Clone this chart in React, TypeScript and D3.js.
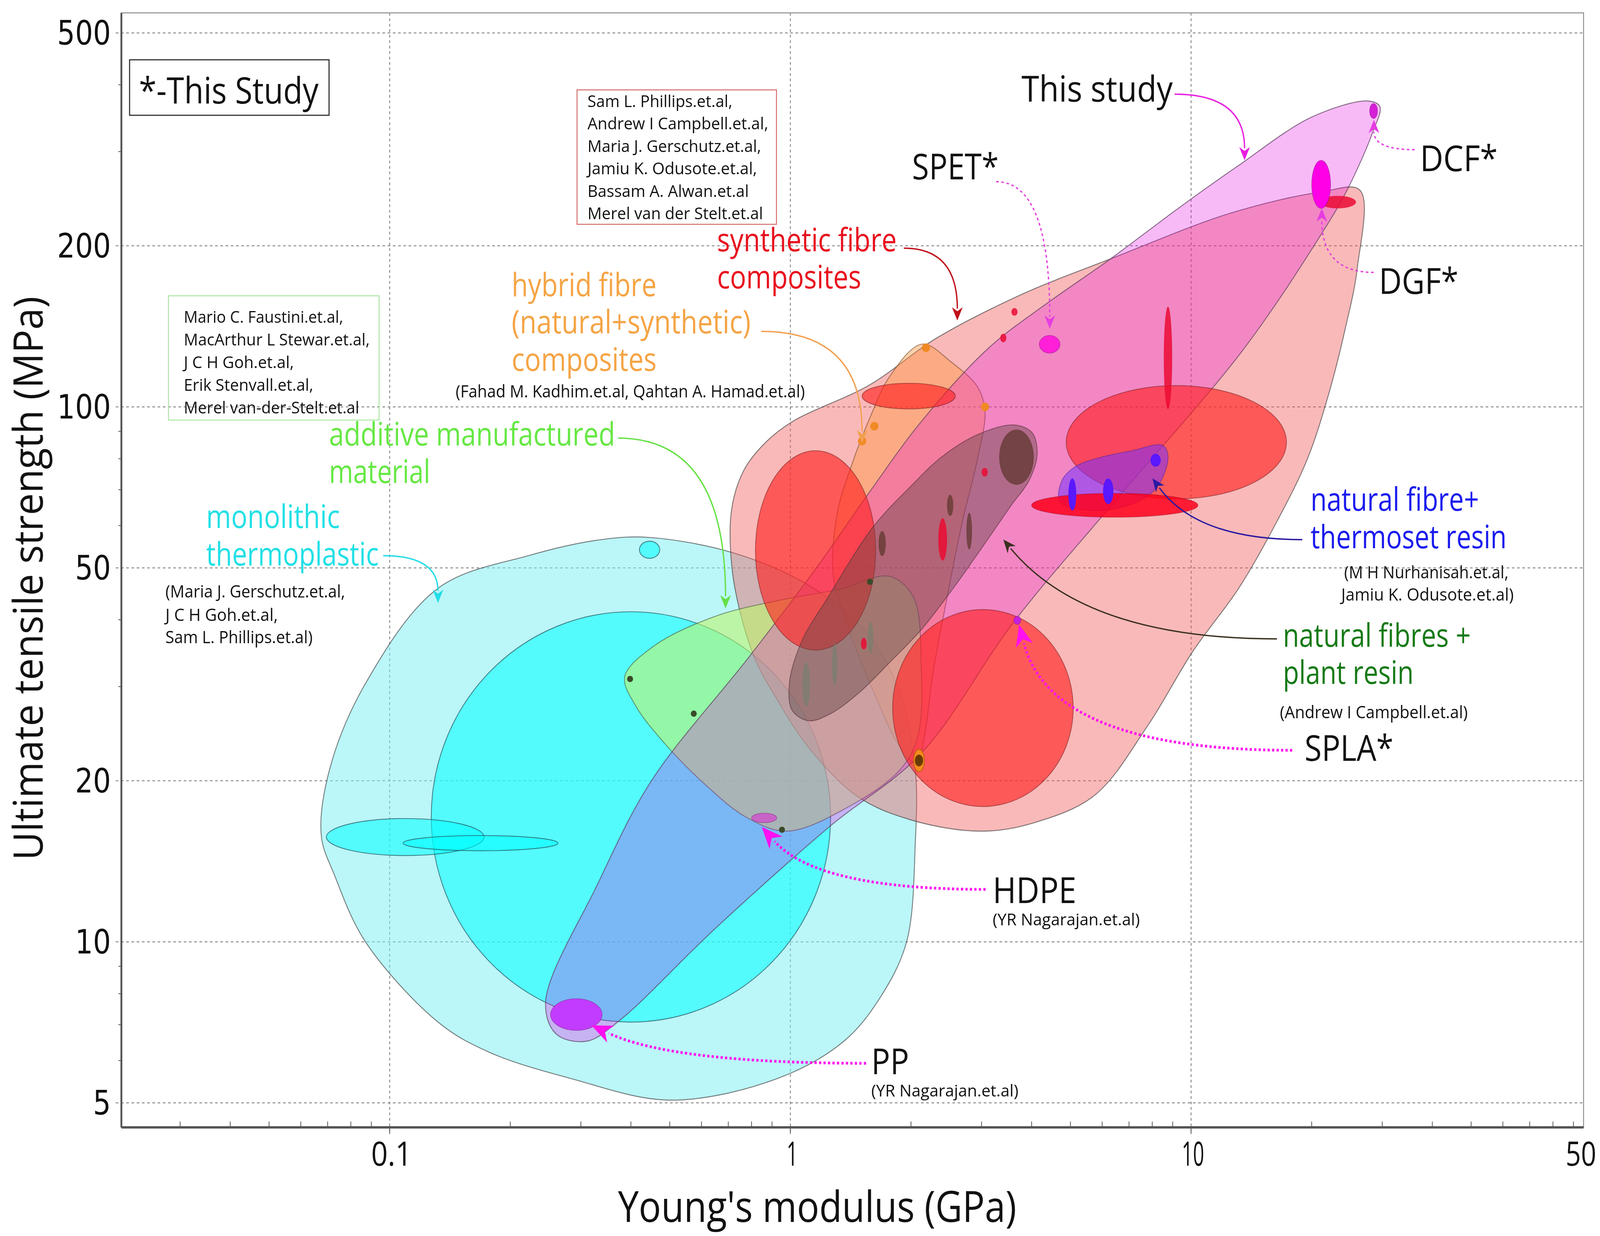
import { useEffect, useRef } from "react";
import * as d3 from "d3";

type Pt = [number, number];
type Bubble = { e: Pt; s: Pt };

// ---- axes ----
const X_DOMAIN: Pt = [0.0214, 95.4];
const Y_DOMAIN: Pt = [4.5, 545];
const X_GRID = [0.1, 1, 10];
const X_TICK_LABELS = ["0.1", "1", "10"];
const X_END_LABEL = "50";
const Y_GRID = [5, 10, 20, 50, 100, 200, 500];
const Y_TICK_LABELS = ["5", "10", "20", "50", "100", "200", "500"];

// ---- envelopes (E in GPa, strength in MPa) ----
const THERMOPLASTIC_ENVELOPE: Pt[] = [
  [0.445, 57.0], [0.723, 53.3], [1.106, 46.5], [1.53, 38.3], [1.88, 29.1], [2.05, 21.0],
  [2.05, 15.3], [1.95, 10.0], [1.67, 7.84], [1.36, 6.52], [0.926, 5.55], [0.501, 5.06],
  [0.284, 5.55], [0.177, 6.22], [0.132, 7.08], [0.087, 10.0], [0.0729, 13.3], [0.0675, 15.8],
  [0.0708, 21.0], [0.087, 30.4], [0.132, 45.8], [0.224, 52.8], [0.339, 56.5],
];

const SYNTHETIC_ENVELOPE: Pt[] = [
  [26.4, 254], [26.0, 182], [24.2, 139], [22.0, 105], [19.5, 79.8], [16.5, 61.7],
  [13.2, 46.0], [10.1, 34.9], [7.78, 25.3], [5.75, 18.8], [4.06, 16.7], [2.99, 16.1],
  [2.0, 16.9], [1.47, 18.7], [1.11, 23.1], [0.926, 28.4], [0.823, 33.3], [0.757, 40.1],
  [0.714, 50.4], [0.714, 64.6], [0.766, 76.2], [0.863, 85.5], [1.01, 93.8], [1.58, 110],
  [2.3, 134], [3.83, 163], [6.29, 189], [12.5, 230], [21.0, 252],
];

const HYBRID_ENVELOPE: Pt[] = [
  [2.13, 131], [2.53, 121], [2.93, 109], [3.06, 98.2], [2.93, 79.8], [2.68, 60.5],
  [2.46, 44.0], [2.27, 31.8], [2.16, 24.2], [2.07, 21.5], [1.88, 23.1], [1.62, 29.1],
  [1.4, 38.3], [1.28, 48.2], [1.31, 63.4], [1.42, 77.6], [1.58, 95.5], [1.77, 114],
];

const ADDITIVE_ENVELOPE: Pt[] = [
  [0.386, 31.3], [0.456, 35.7], [0.65, 40.6], [0.926, 43.4], [1.32, 45.6], [1.77, 48.2],
  [2.03, 44.0], [2.12, 33.3], [2.08, 24.2], [1.88, 21.0], [1.4, 17.9], [0.982, 16.1],
  [0.776, 17.1], [0.612, 19.7], [0.483, 23.6], [0.41, 27.7],
];

const STUDY_ENVELOPE: Pt[] = [
  [27.7, 373], [20.0, 348], [13.0, 281], [9.29, 235], [6.29, 189], [4.31, 155], [3.13, 129],
  [2.12, 93.8], [1.58, 69.5], [1.17, 50.4], [0.789, 34.1], [0.45, 20.0], [0.33, 12.8],
  [0.245, 7.73], [0.26, 6.73], [0.31, 6.52], [0.373, 7.11], [0.65, 10.6], [1.25, 16.4],
  [2.12, 22.5], [3.61, 39.6], [6.4, 66.1], [13.5, 128], [21.2, 211], [24.5, 254],
  [28.4, 326], [29.6, 364],
];

const NATURAL_ENVELOPE: Pt[] = [
  [3.61, 92.5], [4.01, 89.5], [4.13, 81.7], [3.94, 72.8], [3.56, 65.5], [3.02, 54.8],
  [2.56, 46.0], [2.12, 38.3], [1.77, 33.3], [1.49, 29.3], [1.26, 26.7], [1.11, 25.9],
  [1.01, 27.1], [0.994, 30.4], [1.07, 36.6], [1.24, 44.0], [1.61, 59.7], [2.0, 71.1],
  [2.38, 80.5], [2.93, 88.7],
];

const THERMOSET_ENVELOPE: Pt[] = [
  [4.71, 66.4], [4.76, 72.8], [5.14, 77.3], [5.96, 80.5], [7.12, 82.8], [8.5, 84.7],
  [8.76, 80.5], [8.26, 71.1], [7.33, 66.4], [5.79, 64.0],
];

// ---- property bubbles ----
const THERMOPLASTIC_BUBBLES: Bubble[] = [
  { e: [0.127, 1.26], s: [7.08, 41.4] },
  { e: [0.0695, 0.172], s: [14.5, 17.0] },
  { e: [0.108, 0.263], s: [14.8, 15.8] },
  { e: [0.42, 0.472], s: [52.1, 56.1] },
];
const SYNTHETIC_BUBBLES: Bubble[] = [
  { e: [0.818, 1.633], s: [35.1, 82.8] },
  { e: [1.8, 5.08], s: [17.9, 41.8] },
  { e: [4.88, 17.3], s: [67.3, 109.6] },
  { e: [1.51, 2.58], s: [99.1, 110.7] },
];
const SYNTHETIC_STRONG: Bubble[] = [
  { e: [8.55, 8.97], s: [99, 154] },
  { e: [20.9, 25.8], s: [235, 248] },
  { e: [2.34, 2.46], s: [51.6, 61.9] },
  { e: [3.0, 3.11], s: [74.1, 76.9] },
  { e: [3.56, 3.69], s: [148, 153] },
  { e: [3.34, 3.46], s: [132, 137] },
  { e: [1.5, 1.55], s: [35.2, 37.0] },
];
const SYNTHETIC_FLAT: Bubble[] = [{ e: [4.0, 10.4], s: [62.2, 68.9] }];
const NATURAL_BUBBLES: Bubble[] = [
  { e: [3.32, 4.05], s: [71.5, 90.7] },
  { e: [2.75, 2.84], s: [54.1, 63.4] },
  { e: [2.46, 2.55], s: [62.5, 68.5] },
  { e: [1.66, 1.73], s: [52.6, 58.6] },
];
const NATURAL_GREY: Bubble[] = [
  { e: [1.07, 1.12], s: [27.5, 33.3] },
  { e: [1.27, 1.31], s: [30.1, 36.2] },
  { e: [1.56, 1.61], s: [34.6, 39.7] },
];
const THERMOSET_BUBBLES: Bubble[] = [
  { e: [4.94, 5.17], s: [64.0, 73.5] },
  { e: [6.03, 6.4], s: [65.8, 73.5] },
  { e: [7.92, 8.4], s: [77.3, 81.7] },
];
const HYBRID_BIG: Bubble[] = [{ e: [2.03, 2.16], s: [20.8, 22.9] }];
const HYBRID_POINTS: Pt[] = [[2.18, 129], [3.06, 100], [1.62, 92], [1.51, 86.3]];
const ADDITIVE_POINTS: Pt[] = [[0.398, 31.0], [0.574, 26.7], [0.953, 16.2], [1.58, 47.1]];

const STUDY_NAMES = ["SPET", "DGF", "DCF", "SPLA", "HDPE", "PP"];
const STUDY_SAMPLES: Bubble[] = [
  { e: [4.18, 4.71], s: [126, 136] },
  { e: [20.0, 22.3], s: [235, 289] },
  { e: [27.9, 29.2], s: [346, 369] },
  { e: [3.61, 3.76], s: [39.2, 40.6] },
  { e: [0.8, 0.925], s: [16.7, 17.4] },
  { e: [0.252, 0.339], s: [6.83, 7.83] },
];
const STUDY_COLORS: Record<string, string> = {
  SPET: "#ff20d8", DGF: "#ff00e6", DCF: "#d81ed8", SPLA: "#c81ee0", HDPE: "#c864c8", PP: "#c23cff",
};

// ---- annotations ----
const REF_RED = [
  "Sam L. Phillips.et.al,", "Andrew I Campbell.et.al,", "Maria J. Gerschutz.et.al,",
  "Jamiu K. Odusote.et.al,", "Bassam A. Alwan.et.al", "Merel van der Stelt.et.al",
];
const REF_RED_LEN = [388, 484, 465, 454, 432, 470];
const REF_GREEN = [
  "Mario C. Faustini.et.al,", "MacArthur L Stewar.et.al,", "J C H Goh.et.al,",
  "Erik Stenvall.et.al,", "Merel van-der-Stelt.et.al",
];
const REF_GREEN_LEN = [427, 498, 295, 347, 470];

type Label = { t: string; x: number; y: number; size: number; color: string; len: number };
const LABELS: Label[] = [
  { t: "This study", x: 2735, y: 260, size: 92, color: "#111", len: 405 },
  { t: "SPET*", x: 2442, y: 459, size: 92, color: "#111", len: 232 },
  { t: "DCF*", x: 3802, y: 438, size: 92, color: "#111", len: 208 },
  { t: "DGF*", x: 3692, y: 752, size: 92, color: "#111", len: 213 },
  { t: "synthetic fibre", x: 1920, y: 643, size: 82, color: "#e8101e", len: 481 },
  { t: "composites", x: 1920, y: 738, size: 82, color: "#e8101e", len: 386 },
  { t: "hybrid fibre", x: 1370, y: 758, size: 82, color: "#f5a445", len: 388 },
  { t: "(natural+synthetic)", x: 1370, y: 853, size: 82, color: "#f5a445", len: 640 },
  { t: "composites", x: 1370, y: 949, size: 82, color: "#f5a445", len: 388 },
  { t: "(Fahad M. Kadhim.et.al, Qahtan A. Hamad.et.al)", x: 1220, y: 1017, size: 44, color: "#111", len: 935 },
  { t: "additive manufactured", x: 881, y: 1140, size: 82, color: "#66e844", len: 766 },
  { t: "material", x: 881, y: 1236, size: 82, color: "#66e844", len: 271 },
  { t: "monolithic", x: 552, y: 1351, size: 82, color: "#22e0e6", len: 358 },
  { t: "thermoplastic", x: 552, y: 1447, size: 82, color: "#22e0e6", len: 462 },
  { t: "(Maria J. Gerschutz.et.al,", x: 443, y: 1529, size: 44, color: "#111", len: 481 },
  { t: "J C H Goh.et.al,", x: 443, y: 1589, size: 44, color: "#111", len: 301 },
  { t: "Sam L. Phillips.et.al)", x: 443, y: 1646, size: 44, color: "#111", len: 394 },
  { t: "natural fibre+", x: 3509, y: 1307, size: 82, color: "#1a1aee", len: 451 },
  { t: "thermoset resin", x: 3509, y: 1403, size: 82, color: "#1a1aee", len: 525 },
  { t: "(M H Nurhanisah.et.al,", x: 3599, y: 1480, size: 44, color: "#111", len: 440 },
  { t: "Jamiu K. Odusote.et.al)", x: 3591, y: 1537, size: 44, color: "#111", len: 462 },
  { t: "natural fibres +", x: 3435, y: 1655, size: 82, color: "#167a16", len: 503 },
  { t: "plant resin", x: 3435, y: 1750, size: 82, color: "#167a16", len: 350 },
  { t: "(Andrew I Campbell.et.al)", x: 3427, y: 1838, size: 44, color: "#111", len: 503 },
  { t: "SPLA*", x: 3493, y: 1947, size: 92, color: "#111", len: 238 },
  { t: "HDPE", x: 2658, y: 2311, size: 92, color: "#111", len: 224 },
  { t: "(YR Nagarajan.et.al)", x: 2658, y: 2368, size: 42, color: "#111", len: 394 },
  { t: "PP", x: 2333, y: 2749, size: 92, color: "#111", len: 101 },
  { t: "(YR Nagarajan.et.al)", x: 2333, y: 2806, size: 42, color: "#111", len: 394 },
];

type Arrow = { from: Pt; to: Pt; k: number; kind: "solid" | "dot" | "bigdot"; color: string };
const ARROWS: Arrow[] = [
  { from: [3145, 241], to: [13.6, 289], k: 0, kind: "solid", color: "#e81ee0" },
  { from: [2667, 465], to: [4.44, 140], k: 0, kind: "dot", color: "#e63ce0" },
  { from: [3788, 383], to: [28.6, 344], k: 0, kind: "dot", color: "#e63ce0" },
  { from: [3678, 697], to: [21.2, 235], k: 0, kind: "dot", color: "#e63ce0" },
  { from: [2420, 635], to: [2.61, 145], k: 0, kind: "solid", color: "#c0101a" },
  { from: [2038, 848], to: [1.51, 85.5], k: 0, kind: "solid", color: "#f2a050" },
  { from: [1655, 1121], to: [0.689, 42.0], k: 0, kind: "solid", color: "#66e044" },
  { from: [1026, 1422], to: [0.132, 43.0], k: 0, kind: "solid", color: "#22dde6" },
  { from: [3487, 1381], to: [8.01, 73.5], k: 0.3, kind: "solid", color: "#2a1aa0" },
  { from: [3419, 1635], to: [3.4, 56.5], k: 0.3, kind: "solid", color: "#3a3020" },
  { from: [3460, 1920], to: [3.72, 39.2], k: 0.12, kind: "bigdot", color: "#ff10f0" },
  { from: [2639, 2276], to: [0.848, 16.4], k: 0.25, kind: "bigdot", color: "#ff10f0" },
  { from: [2319, 2721], to: [0.319, 6.98], k: 0.3, kind: "bigdot", color: "#ff10f0" },
];

const FONT = "'Open Sans', 'Noto Sans', sans-serif";
const NUM_FONT = "'DejaVu Sans', sans-serif";

export default function App() {
  const svgRef = useRef<SVGSVGElement | null>(null);

  useEffect(() => {
    if (!svgRef.current) return;
    const W = 4284, H = 3163;
    const L = 325, R = 4240, T = 33, B = 2885;
    const svg = d3.select(svgRef.current);
    svg.selectAll("*").remove();

    const x = d3.scaleLog().domain(X_DOMAIN).range([L, R]);
    const y = d3.scaleLog().domain(Y_DOMAIN).range([B, T]);

    svg.append("rect").attr("width", W).attr("height", H).attr("fill", "#fff");

    // grid
    const grid = svg.append("g").attr("stroke", "#8a8a8a").attr("stroke-width", 2.5).attr("stroke-dasharray", "7,7");
    X_GRID.forEach((v) => grid.append("line").attr("x1", x(v)).attr("x2", x(v)).attr("y1", T).attr("y2", B + 17));
    Y_GRID.forEach((v) => grid.append("line").attr("x1", L - 15).attr("x2", R).attr("y1", y(v)).attr("y2", y(v)));

    const plot = svg.append("g");
    const line = d3.line<Pt>().x((d) => x(d[0])).y((d) => y(d[1])).curve(d3.curveCatmullRomClosed.alpha(0.5));
    const edge = "rgba(60,60,60,0.65)";

    const env = (pts: Pt[], fill: string, stroke = edge) =>
      plot.append("path").attr("d", line(pts)).attr("fill", fill)
        .attr("stroke", stroke).attr("stroke-width", 2.4);
    const ell = (list: Bubble[], fill: string, stroke: string, sw = 2.2) => {
      list.forEach((b) => {
        plot.append("ellipse")
          .attr("cx", (x(b.e[0]) + x(b.e[1])) / 2).attr("cy", (y(b.s[0]) + y(b.s[1])) / 2)
          .attr("rx", (x(b.e[1]) - x(b.e[0])) / 2).attr("ry", (y(b.s[0]) - y(b.s[1])) / 2)
          .attr("fill", fill).attr("stroke", stroke).attr("stroke-width", sw);
      });
    };

    // monolithic thermoplastic
    env(THERMOPLASTIC_ENVELOPE, "rgba(120,238,244,0.5)");
    ell(THERMOPLASTIC_BUBBLES, "rgba(0,255,255,0.55)", "rgba(30,80,90,0.7)");
    // synthetic fibre composites
    env(SYNTHETIC_ENVELOPE, "rgba(240,80,80,0.4)");
    // hybrid
    env(HYBRID_ENVELOPE, "rgba(255,150,60,0.42)", "rgba(120,70,40,0.6)");
    // additive manufactured
    env(ADDITIVE_ENVELOPE, "rgba(190,245,110,0.6)", "rgba(70,90,60,0.6)");
    // this study
    env(STUDY_ENVELOPE, "rgba(227,0,227,0.27)", "rgba(90,60,90,0.7)");
    // synthetic bubbles
    ell(SYNTHETIC_BUBBLES, "rgba(255,30,30,0.62)", "rgba(120,30,30,0.55)");
    // natural fibres + plant resin
    env(NATURAL_ENVELOPE, "rgba(100,70,70,0.45)", "rgba(90,50,60,0.6)");
    ell(NATURAL_GREY, "rgba(110,130,110,0.55)", "none");
    ell(NATURAL_BUBBLES, "rgba(95,55,45,0.75)", "none");
    // thermoset
    env(THERMOSET_ENVELOPE, "rgba(120,50,255,0.55)", "rgba(80,40,150,0.5)");
    ell(SYNTHETIC_FLAT, "rgba(255,0,28,0.85)", "rgba(150,0,20,0.4)");
    ell(SYNTHETIC_STRONG, "rgba(235,10,50,0.85)", "none");
    ell(THERMOSET_BUBBLES, "#5a18ff", "none");
    // hybrid points
    ell(HYBRID_BIG, "#f48a1c", "#c06010");
    HYBRID_BIG.forEach((b) => {
      plot.append("ellipse").attr("cx", (x(b.e[0]) + x(b.e[1])) / 2).attr("cy", (y(b.s[0]) + y(b.s[1])) / 2)
        .attr("rx", 11).attr("ry", 15).attr("fill", "#6a3a05");
    });
    HYBRID_POINTS.forEach((p) => plot.append("circle").attr("cx", x(p[0])).attr("cy", y(p[1])).attr("r", 11).attr("fill", "#f08a25"));
    ADDITIVE_POINTS.forEach((p) => plot.append("circle").attr("cx", x(p[0])).attr("cy", y(p[1])).attr("r", 8).attr("fill", "#3a4a2a"));
    // study samples
    STUDY_SAMPLES.forEach((b, i) => {
      ell([b], STUDY_COLORS[STUDY_NAMES[i]], "rgba(120,20,120,0.5)", 1.5);
    });

    // frame & axes
    const ax = svg.append("g");
    ax.append("rect").attr("x", L).attr("y", T).attr("width", R - L).attr("height", B - T)
      .attr("fill", "none").attr("stroke", "#8c8c8c").attr("stroke-width", 2.5);
    ax.append("line").attr("x1", L).attr("x2", L).attr("y1", T).attr("y2", B).attr("stroke", "#555").attr("stroke-width", 5);
    ax.append("line").attr("x1", L).attr("x2", R).attr("y1", B).attr("y2", B).attr("stroke", "#555").attr("stroke-width", 6);
    const decade = (v: number) => Math.abs(Math.log10(v) - Math.round(Math.log10(v))) < 1e-6;
    x.ticks().filter((v) => !decade(v)).forEach((v) =>
      ax.append("line").attr("x1", x(v)).attr("x2", x(v)).attr("y1", B).attr("y2", B - 15).attr("stroke", "#555").attr("stroke-width", 2));
    y.ticks().filter((v) => !Y_GRID.includes(v)).forEach((v) =>
      ax.append("line").attr("x1", L - 8).attr("x2", L).attr("y1", y(v)).attr("y2", y(v)).attr("stroke", "#555").attr("stroke-width", 2));
    X_GRID.forEach((v) => ax.append("line").attr("x1", x(v)).attr("x2", x(v)).attr("y1", B).attr("y2", B + 17).attr("stroke", "#555").attr("stroke-width", 2));

    const text = (s: string, tx: number, ty: number, size: number, fill: string, len?: number, anchor = "start", family = FONT) => {
      const t = ax.append("text").attr("x", tx).attr("y", ty).attr("font-size", size).attr("fill", fill)
        .attr("font-family", family).attr("text-anchor", anchor).text(s);
      if (len) t.attr("textLength", len).attr("lengthAdjust", "spacingAndGlyphs");
      return t;
    };

    Y_GRID.forEach((v, i) => text(Y_TICK_LABELS[i], 297, y(v) + 30, 86, "#111", 48 * Y_TICK_LABELS[i].length, "end", NUM_FONT));
    X_GRID.forEach((v, i) => text(X_TICK_LABELS[i], x(v) + 5, 2983, 86, "#111", X_TICK_LABELS[i].length === 3 ? 109 : 30 * X_TICK_LABELS[i].length, "middle", FONT));
    text(X_END_LABEL, R - 7, 2983, 86, "#111", 82, "middle", FONT);

    text("Young's modulus (GPa)", 2188, 3127, 110, "#111", 1067, "middle");
    text("Ultimate tensile strength (MPa)", 0, 0, 110, "#111", 1443, "middle")
      .attr("transform", "translate(114,1480) rotate(-90)");

    // boxes
    ax.append("rect").attr("x", 347).attr("y", 153).attr("width", 534).attr("height", 142)
      .attr("fill", "#fff").attr("stroke", "#333").attr("stroke-width", 3);
    text("*-This Study", 372, 265, 94, "#111", 481);
    ax.append("rect").attr("x", 1545).attr("y", 230).attr("width", 534).attr("height", 344)
      .attr("fill", "#fff").attr("stroke", "#d46a6a").attr("stroke-width", 2.5);
    REF_RED.forEach((s, i) => text(s, 1573, 274 + i * 57.4, 42, "#111", REF_RED_LEN[i]));
    ax.append("rect").attr("x", 451).attr("y", 757).attr("width", 564).attr("height", 318)
      .attr("fill", "none").attr("stroke", "#a8e6a0").attr("stroke-width", 2.5);
    REF_GREEN.forEach((s, i) => text(s, 492, 826 + i * 58, 42, "#111", REF_GREEN_LEN[i]));

    LABELS.forEach((l) => text(l.t, l.x, l.y, l.size, l.color, l.len));

    // arrows
    ARROWS.forEach((a) => {
      const tx = x(a.to[0]), ty = y(a.to[1]);
      const [fx, fy] = a.from;
      const cx = tx + a.k * (fx - tx), cy = fy;
      const sw = a.kind === "bigdot" ? 7 : 3.5;
      const head = a.kind === "bigdot" ? 56 : 34;
      const ang = Math.atan2(ty - cy, tx - cx);
      const bx = tx - Math.cos(ang) * head * 0.9, by = ty - Math.sin(ang) * head * 0.9;
      const path = ax.append("path").attr("d", `M${fx},${fy} Q${cx},${cy} ${bx},${by}`)
        .attr("fill", "none").attr("stroke", a.color).attr("stroke-width", sw);
      if (a.kind === "bigdot") path.attr("stroke-dasharray", "6,6");
      if (a.kind === "dot") path.attr("stroke-dasharray", "7,7");
      const w = head * 0.42;
      const px = -Math.sin(ang), py = Math.cos(ang);
      const back = [tx - Math.cos(ang) * head, ty - Math.sin(ang) * head];
      const notch = [tx - Math.cos(ang) * head * 0.7, ty - Math.sin(ang) * head * 0.7];
      ax.append("path")
        .attr("d", `M${tx},${ty} L${back[0] + px * w},${back[1] + py * w} L${notch[0]},${notch[1]} L${back[0] - px * w},${back[1] - py * w} Z`)
        .attr("fill", a.color);
    });
  }, []);

  return (
    <svg
      ref={svgRef}
      viewBox="0 0 4284 3163"
      preserveAspectRatio="none"
      style={{ position: "fixed", left: 0, top: 0, width: "100vw", height: "100vh", display: "block" }}
    />
  );
}
